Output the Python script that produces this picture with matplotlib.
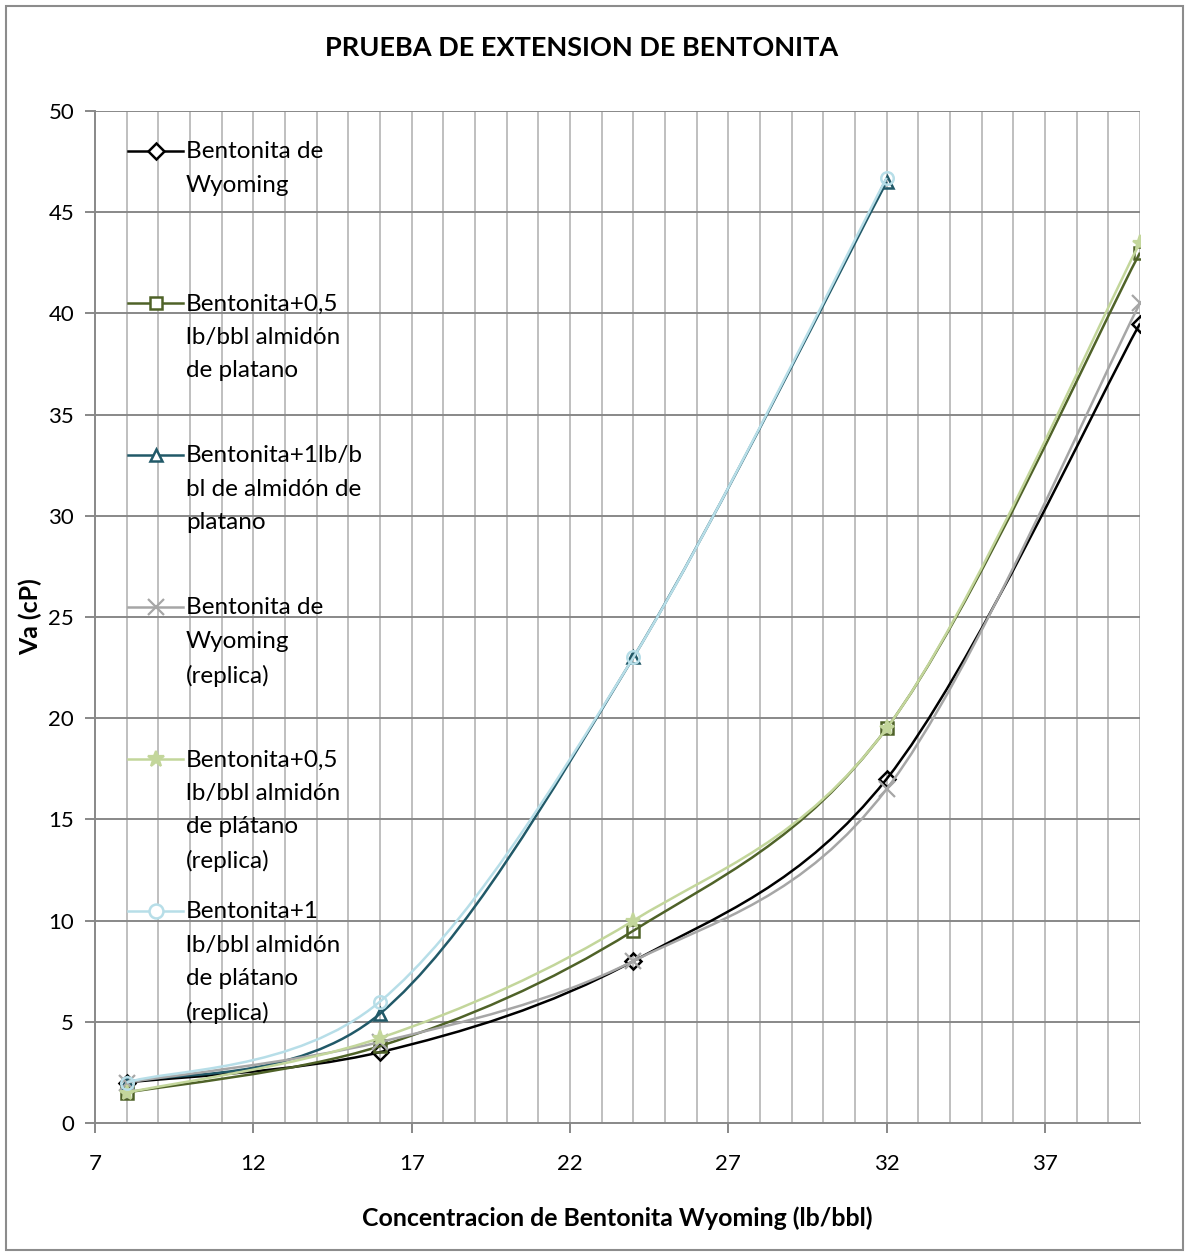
import numpy as np
import matplotlib
matplotlib.use('Agg')
import matplotlib.pyplot as plt
from matplotlib.path import Path
from matplotlib.patches import PathPatch, Rectangle

plt.rcParams['font.family'] = ['Lato', 'DejaVu Sans']

# Concentraciones (lb/bbl) y viscosidad aparente Va (cP)
conc = [8, 16, 24, 32, 40]
bent_wyoming = [2.0, 3.5, 8.0, 17.0, 39.5]
bent_05 = [1.5, 3.8, 9.5, 19.5, 43.0]
bent_1 = [2.0, 5.4, 23.0, 46.5]
bent_wyoming_rep = [2.0, 4.0, 8.0, 16.5, 40.5]
bent_05_rep = [1.5, 4.2, 10.0, 19.5, 43.5]
bent_1_rep = [2.0, 6.0, 23.0, 46.7]

etiquetas = ['Bentonita de\nWyoming',
             'Bentonita+0,5\nlb/bbl almidón\nde platano',
             'Bentonita+1lb/b\nbl de almidón de\nplatano',
             'Bentonita de\nWyoming\n(replica)',
             'Bentonita+0,5\nlb/bbl almidón\nde plátano\n(replica)',
             'Bentonita+1\nlb/bbl almidón\nde plátano\n(replica)']
series = [bent_wyoming, bent_05, bent_1, bent_wyoming_rep, bent_05_rep, bent_1_rep]
colores = ['#000000', '#4F6228', '#215968', '#A6A6A6', '#C3D69B', '#B7DEE8']
marcadores = ['D', 's', '^', 'x', '*', 'o']


def curva_suave(xs, ys):
    # Curva suavizada tipo Excel (Bezier cubica por segmentos)
    pts = np.column_stack([xs, ys]).astype(float)
    n = len(pts)
    verts = [pts[0]]
    codes = [Path.MOVETO]
    for i in range(n - 1):
        p0 = pts[i - 1] if i > 0 else pts[i]
        p1 = pts[i]
        p2 = pts[i + 1]
        p3 = pts[i + 2] if i + 2 < n else pts[i + 1]
        c1 = p1 + (p2 - p0) / 6.0
        c2 = p2 - (p3 - p1) / 6.0
        verts += [c1, c2, p2]
        codes += [Path.CURVE4] * 3
    return Path(verts, codes)


fig = plt.figure(figsize=(11.89, 12.54), dpi=100)
ax = fig.add_axes([95 / 1189, 1 - 1123 / 1254, (1140 - 95) / 1189, (1123 - 111) / 1254])

# Marco exterior del grafico
fig.patches.append(Rectangle((6 / 1189, 4 / 1254), 1177 / 1189, 1244 / 1254,
                             transform=fig.transFigure, fill=False,
                             edgecolor='#8C8C8C', linewidth=1.5))

ax.set_xlim(7, 40)
ax.set_ylim(0, 50)

# Rejilla
for xv in range(8, 41):
    ax.axvline(xv, color='#BFBFBF', linewidth=1.4, zorder=0)
for yv in range(5, 51, 5):
    ax.axhline(yv, color='#888888', linewidth=1.4, zorder=0)

for i, ys in enumerate(series):
    xs = conc[:len(ys)]
    ax.add_patch(PathPatch(curva_suave(xs, ys), fill=False, edgecolor=colores[i],
                           linewidth=1.8, zorder=2 + i))
    if marcadores[i] in ('x', '*'):
        ax.plot(xs, ys, linestyle='none', marker=marcadores[i], markersize=11,
                color=colores[i], markeredgewidth=1.6, zorder=2 + i)
    else:
        ax.plot(xs, ys, linestyle='none', marker=marcadores[i],
                markersize=9 if marcadores[i] == 'o' else 8,
                markerfacecolor='none', markeredgecolor=colores[i],
                markeredgewidth=1.8, zorder=2 + i)

# Leyenda dentro del area del grafico
for i, etq in enumerate(etiquetas):
    yl = 1 - (151 - 111 + i * 152) / (1123 - 111)
    ax.plot([0.032, 0.084], [yl, yl], transform=ax.transAxes, color=colores[i],
            linewidth=1.8, zorder=10, clip_on=False)
    if marcadores[i] in ('x', '*'):
        ax.plot([0.058], [yl], transform=ax.transAxes, marker=marcadores[i],
                markersize=12, color=colores[i], markeredgewidth=1.6, zorder=10)
    else:
        ax.plot([0.058], [yl], transform=ax.transAxes, marker=marcadores[i],
                markersize=10 if marcadores[i] == 'o' else 8,
                markerfacecolor='white', markeredgecolor=colores[i],
                markeredgewidth=1.8, zorder=10)
    ax.text(0.087, yl + 0.0095, etq, transform=ax.transAxes, fontsize=17.5,
            va='top', ha='left', linespacing=1.72, zorder=11)

ax.set_xticks(range(7, 41, 5))
ax.set_yticks(range(0, 51, 5))
ax.tick_params(axis='x', labelsize=16, color='#888888', length=7, width=1.4, pad=15)
ax.tick_params(axis='y', labelsize=16, color='#888888', length=7, width=1.4, pad=8)
for s in ['top', 'right']:
    ax.spines[s].set_visible(False)
for s in ['left', 'bottom']:
    ax.spines[s].set_color('#888888')
    ax.spines[s].set_linewidth(1.4)

ax.set_xlabel('Concentracion de Bentonita Wyoming (lb/bbl)', fontsize=17.9,
              fontweight='bold', va='center')
ax.set_ylabel('Va (cP)', fontsize=17.9, fontweight='bold', va='center')
ax.xaxis.set_label_coords(0.5, (1123 - 1218) / 1012)
ax.yaxis.set_label_coords((30 - 95) / 1045, 0.5)
fig.text(0.489, 1 - 48 / 1254, 'PRUEBA DE EXTENSION DE BENTONITA', ha='center',
         va='center', fontsize=19.5, fontweight='bold')

fig.savefig('out.png', dpi=100)
